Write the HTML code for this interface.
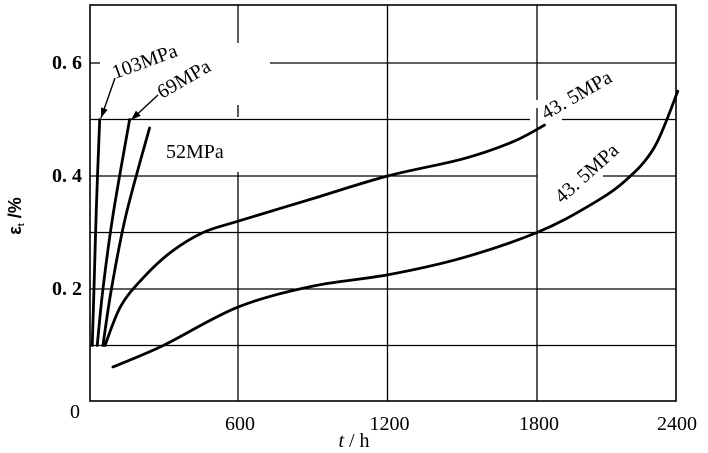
<!DOCTYPE html>
<html><head><meta charset="utf-8"><style>
html,body{margin:0;padding:0;background:#fff;}
svg{display:block;font-family:"Liberation Serif",serif;}
</style></head><body>
<svg id="chart" width="708" height="453" viewBox="0 0 708 453">
<g id="grid"></g><g id="curves"></g><g id="labels"></g>
</svg>
<script>
const xTicks=[600,1200,1800,2400];
const yTicks=[0.2,0.4,0.6];
const yGrid=[0.1,0.2,0.3,0.4,0.5,0.6];
const seriesNames=["103MPa","69MPa","52MPa","43.5MPa-upper","43.5MPa-lower"];
const s103=[[15,0.1],[22,0.2],[32,0.35],[45,0.5]];
const s69=[[35,0.1],[58,0.2],[98,0.33],[165,0.5]];
const s52=[[58,0.1],[92,0.2],[150,0.33],[245,0.485]];
const s435a=[[66,0.1],[130,0.17],[220,0.22],[330,0.265],[460,0.3],[600,0.32],[900,0.36],[1200,0.4],[1500,0.43],[1700,0.46],[1830,0.49]];
const s435b=[[98,0.062],[300,0.1],[600,0.168],[900,0.205],[1200,0.225],[1500,0.255],[1800,0.3],[2000,0.345],[2150,0.39],[2270,0.45],[2365,0.55]];
const allSeries=[s103,s69,s52,s435a,s435b];

const NS="http://www.w3.org/2000/svg";
const X=t=>88.5+t*(149.5/600);
const Y=v=>402-v*565;
const L=90,R=676,T=5,B=401;
function mk(tag,attrs,parent){const e=document.createElementNS(NS,tag);for(const k in attrs)e.setAttribute(k,attrs[k]);parent.appendChild(e);return e;}
const grid=document.getElementById('grid');
const curves=document.getElementById('curves');
const labels=document.getElementById('labels');
const frame=mk('rect',{x:L,y:T,width:R-L,height:B-T,fill:'none',stroke:'#000','stroke-width':1.6},grid);


const hGaps={0.6:[[100,270]],0.5:[[530,562]],0.4:[[537,603]]};
yGrid.forEach(v=>{
  const gaps=hGaps[v]||[];let segs=[];let s=L;
  gaps.forEach(g=>{segs.push([s,g[0]]);s=g[1];});segs.push([s,R]);
  segs.forEach(sg=>{
    const ln=mk('line',{x1:sg[0],x2:sg[1],y1:Y(v),y2:Y(v),stroke:'#000','stroke-width':1.3},grid);
    
    
  });
});
const vGaps={600:[[43,105],[117,172]],1800:[[100,108]]};
xTicks.forEach(t=>{
  if(t<2400){
    const gaps=vGaps[t]||[];let segs=[];let s=T;
    gaps.forEach(g=>{segs.push([s,g[0]]);s=g[1];});segs.push([s,B]);
    segs.forEach(sg=>{
      const ln=mk('line',{x1:X(t),x2:X(t),y1:sg[0],y2:sg[1],stroke:'#000','stroke-width':1.3},grid);
      
      
    });
  }
  const tx=mk('text',{x:Math.min(X(t)+2,677),y:430,'font-size':20,'text-anchor':'middle'},labels);
  tx.textContent=t;
  
  
});
yTicks.forEach(v=>{
  const tx=mk('text',{x:82,y:Y(v)+6,'font-size':20,'text-anchor':'end','font-weight':'bold'},labels);
  tx.textContent=v.toFixed(1).replace('.','. ');
  
  
});
const z=mk('text',{x:80,y:418,'font-size':20,'text-anchor':'end'},labels);z.textContent='0';


function path(pts){
  const p=pts.map(d=>[X(d[0]),Y(d[1])]);
  let s='M'+p[0][0]+','+p[0][1];
  for(let i=0;i<p.length-1;i++){
    const p0=p[Math.max(i-1,0)],p1=p[i],p2=p[i+1],p3=p[Math.min(i+2,p.length-1)];
    s+=' C'+(p1[0]+(p2[0]-p0[0])/6)+','+(p1[1]+(p2[1]-p0[1])/6)+' '+(p2[0]-(p3[0]-p1[0])/6)+','+(p2[1]-(p3[1]-p1[1])/6)+' '+p2[0]+','+p2[1];
  }
  return s;
}
allSeries.forEach((s,i)=>{
  const pe=mk('path',{d:path(s),fill:'none',stroke:'#000','stroke-width':2.8,'stroke-linecap':'round'},curves);
  
  
});
[[[115,78],[101,118]],[[158,95],[131,120]]].forEach(a=>{
  const ln=mk('line',{x1:a[0][0],y1:a[0][1],x2:a[1][0],y2:a[1][1],stroke:'#000','stroke-width':1.4},labels);
  
  
  const dx=a[1][0]-a[0][0],dy=a[1][1]-a[0][1],l=Math.hypot(dx,dy),ux=dx/l,uy=dy/l;
  const bx=a[1][0]-ux*10,by=a[1][1]-uy*10;
  const hd=mk('polygon',{points:a[1][0]+','+a[1][1]+' '+(bx-uy*3.5)+','+(by+ux*3.5)+' '+(bx+uy*3.5)+','+(by-ux*3.5),fill:'#000'},labels);
  
  
});
function lab(txt,x,y,rot,name){
  const t=mk('text',{x:x,y:y,'font-size':20,transform:'rotate('+rot+' '+x+' '+y+')'},labels);
  t.textContent=txt;
  
  
}
lab('103MPa',115,79,-20,'label-103mpa');
lab('69MPa',162,99,-30,'label-69mpa');
lab('52MPa',166,158,0,'label-52mpa');
lab('43. 5MPa',546,120,-30,'label-43-5mpa-upper');
lab('43. 5MPa',562,204,-42,'label-43-5mpa-lower');
const xt=mk('text',{x:354,y:447,'font-size':20,'text-anchor':'middle'},labels);
xt.innerHTML='<tspan font-style="italic">t</tspan> / h';


const yt=mk('text',{x:21,y:216,'font-size':18,'font-weight':'bold','text-anchor':'middle','font-family':'Liberation Sans, sans-serif',transform:'rotate(-90 21 216)'},labels);
yt.innerHTML='ε<tspan font-size="9" dy="3">t</tspan><tspan dy="-3"> /%</tspan>';


</script>
</body></html>
